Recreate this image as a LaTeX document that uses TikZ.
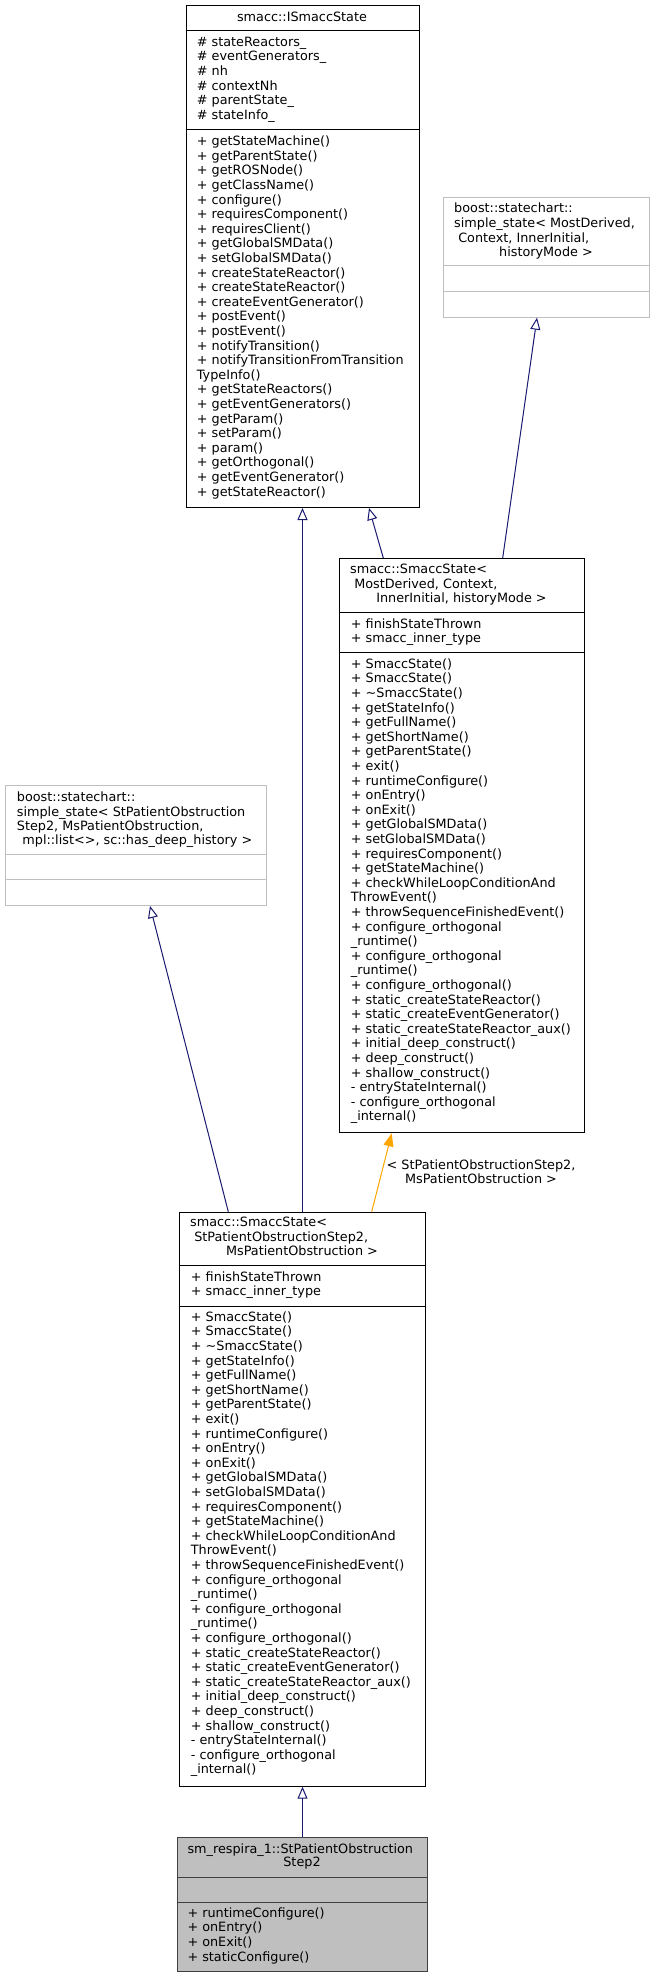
\documentclass[tikz,border=0pt]{standalone}
\usepackage{fontspec}
\setmainfont{DejaVu Sans}
\usetikzlibrary{arrows.meta}
\definecolor{edgeblue}{HTML}{191970}
\definecolor{extgray}{HTML}{BFBFBF}
\definecolor{focusline}{HTML}{404040}
\definecolor{tmplorange}{HTML}{FFA500}
\newcommand{\dxfont}{\fontsize{12.8pt}{14.6pt}\selectfont}
% SmaccState の共通メソッド
\newcommand{\smaccstateops}{+ SmaccState()\\+ SmaccState()\\+ \textasciitilde SmaccState()\\+ getStateInfo()\\+ getFullName()\\+ getShortName()\\+ getParentState()\\+ exit()\\+ runtimeConfigure()\\+ onEntry()\\+ onExit()\\+ getGlobalSMData()\\+ setGlobalSMData()\\+ requiresComponent()\\+ getStateMachine()\\+ checkWhileLoopConditionAnd\\ThrowEvent()\\+ throwSequenceFinishedEvent()\\+ configure\_orthogonal\\\_runtime()\\+ configure\_orthogonal\\\_runtime()\\+ configure\_orthogonal()\\+ static\_createStateReactor()\\+ static\_createEventGenerator()\\+ static\_createStateReactor\_aux()\\+ initial\_deep\_construct()\\+ deep\_construct()\\+ shallow\_construct()\\- entryStateInternal()\\- configure\_orthogonal\\\_internal()}

\begin{document}
\begin{tikzpicture}[x=1pt, y=-1pt,
    classbox/.style={draw=black, line width=1pt, inner sep=0pt, anchor=north west},
    extbox/.style={classbox, draw=extgray},
    focusbox/.style={classbox, draw=focusline, fill=extgray},
    members/.style={align=left, anchor=north west, inner sep=0pt, font=\dxfont},
    titleline/.style={anchor=base, inner sep=0pt, font=\dxfont},
    titleleft/.style={anchor=base west, inner sep=0pt, font=\dxfont},
    inherit/.style={draw=edgeblue, line width=1pt, -{Triangle[open, length=12pt, width=10pt]}},
    tmpl/.style={draw=tmplorange, line width=1pt, -{Triangle[length=13pt, width=10pt]}}]
    \useasboundingbox (0,0) rectangle (655,1977);

    % smacc::ISmaccState
    \node[classbox, minimum width=233pt, minimum height=502pt] (iSmaccState) at (185.5,5) {};
    \draw[line width=1pt] (iSmaccState.west |- 0,31) -- (iSmaccState.east |- 0,31);
    \draw[line width=1pt] (iSmaccState.west |- 0,130) -- (iSmaccState.east |- 0,130);
    \node[titleline] (iSmaccStateName) at (302,22) {smacc::ISmaccState};
    \node[members] (iSmaccStateAttr) at (196.7,36.7) {\# stateReactors\_\\\# eventGenerators\_\\\# nh\\\# contextNh\\\# parentState\_\\\# stateInfo\_};
    \node[members] (iSmaccStateOps) at (196.7,135.7) {+ getStateMachine()\\+ getParentState()\\+ getROSNode()\\+ getClassName()\\+ configure()\\+ requiresComponent()\\+ requiresClient()\\+ getGlobalSMData()\\+ setGlobalSMData()\\+ createStateReactor()\\+ createStateReactor()\\+ createEventGenerator()\\+ postEvent()\\+ postEvent()\\+ notifyTransition()\\+ notifyTransitionFromTransition\\TypeInfo()\\+ getStateReactors()\\+ getEventGenerators()\\+ getParam()\\+ setParam()\\+ param()\\+ getOrthogonal()\\+ getEventGenerator()\\+ getStateReactor()};

    % boost::statechart::simple_state (汎用)
    \node[extbox, minimum width=206pt, minimum height=120pt] (boostGeneric) at (443,196.7) {};
    \draw[line width=1pt, extgray] (boostGeneric.west |- 0,266) -- (boostGeneric.east |- 0,266);
    \draw[line width=1pt, extgray] (boostGeneric.west |- 0,291) -- (boostGeneric.east |- 0,291);
    \node[members] (boostGenericName) at (454,203) {boost::statechart::\\simple\_state< MostDerived,\\\ Context, InnerInitial,};
    \node[titleline] (boostGenericNameB) at (546,256.8) {historyMode >};

    % smacc::SmaccState (テンプレート)
    \node[classbox, minimum width=245pt, minimum height=574.3pt] (smsGeneric) at (339,558) {};
    \draw[line width=1pt] (smsGeneric.west |- 0,612.3) -- (smsGeneric.east |- 0,612.3);
    \draw[line width=1pt] (smsGeneric.west |- 0,652.7) -- (smsGeneric.east |- 0,652.7);
    \node[members] (smsGenericName) at (350,564) {smacc::SmaccState<\\\ MostDerived, Context,};
    \node[titleline] (smsGenericNameB) at (461.5,602.7) {InnerInitial, historyMode >};
    \node[members] (smsGenericAttr) at (350.7,618.3) {+ finishStateThrown\\+ smacc\_inner\_type};
    \node[members] (smsGenericOps) at (350.7,658.3) {\smaccstateops};

    % boost::statechart::simple_state (具体化)
    \node[extbox, minimum width=260.7pt, minimum height=120pt] (leftBoost) at (5,785) {};
    \draw[line width=1pt, extgray] (leftBoost.west |- 0,854) -- (leftBoost.east |- 0,854);
    \draw[line width=1pt, extgray] (leftBoost.west |- 0,879.3) -- (leftBoost.east |- 0,879.3);
    \node[members] (leftBoostName) at (16.7,791.7) {boost::statechart::\\simple\_state< StPatientObstruction\\Step2, MsPatientObstruction,};
    \node[titleline] (leftBoostNameB) at (135.3,844.7) {\ mpl::list<>, sc::has\_deep\_history >};

    % smacc::SmaccState (具体化)
    \node[classbox, minimum width=246pt, minimum height=574pt] (smsConcrete) at (179,1211.7) {};
    \draw[line width=1pt] (smsConcrete.west |- 0,1265.7) -- (smsConcrete.east |- 0,1265.7);
    \draw[line width=1pt] (smsConcrete.west |- 0,1306) -- (smsConcrete.east |- 0,1306);
    \node[members] (smsConcreteName) at (190,1216.7) {smacc::SmaccState<\\\ StPatientObstructionStep2,};
    \node[titleline] (smsConcreteNameB) at (302,1255.7) {MsPatientObstruction >};
    \node[members] (smsConcreteAttr) at (190.7,1271.3) {+ finishStateThrown\\+ smacc\_inner\_type};
    \node[members] (smsConcreteOps) at (190.7,1311.3) {\smaccstateops};

    % sm_respira_1::StPatientObstructionStep2
    \node[focusbox, minimum width=250.6pt, minimum height=134.3pt] (stStep2) at (176.7,1836.7) {};
    \draw[line width=1pt, focusline] (stStep2.west |- 0,1877.3) -- (stStep2.east |- 0,1877.3);
    \draw[line width=1pt, focusline] (stStep2.west |- 0,1902) -- (stStep2.east |- 0,1902);
    \node[titleleft] (stStep2Name) at (187.3,1853) {sm\_respira\_1::StPatientObstruction};
    \node[titleline] (stStep2NameB) at (302,1866.7) {Step2};
    \node[members] (stStep2Ops) at (187.3,1907.3) {+ runtimeConfigure()\\+ onEntry()\\+ onExit()\\+ staticConfigure()};

    % 継承の矢印
    \draw[inherit] (stStep2.north) -- (smsConcrete.south);
    \draw[inherit] (smsConcrete.north) -- (iSmaccState.south);
    \draw[inherit] ([xshift=49.3pt]smsConcrete.north west) -- ([xshift=145pt]leftBoost.south west);
    \draw[inherit] ([xshift=44.3pt]smsGeneric.north west) -- ([xshift=183.5pt]iSmaccState.south west);
    \draw[inherit] ([xshift=163.7pt]smsGeneric.north west) -- ([xshift=94pt]boostGeneric.south west);

    % テンプレート引数
    \draw[tmpl] ([xshift=192.7pt]smsConcrete.north west) -- ([xshift=52.7pt]smsGeneric.south west);
    \node[font=\dxfont, align=center, inner sep=0pt] (tmplLabel) at (481,1171.7) {< StPatientObstructionStep2,\\MsPatientObstruction >};
\end{tikzpicture}
\end{document}
